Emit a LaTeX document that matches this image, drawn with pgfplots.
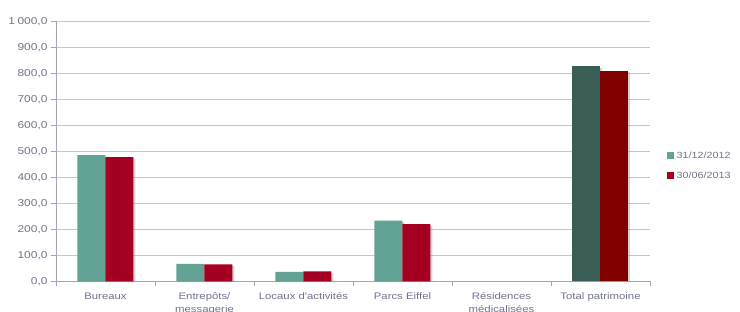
\documentclass[border=0pt]{standalone}
\usepackage{pgfplots}
\pgfplotsset{compat=1.18}
\usepackage{fontspec}
\setmainfont{Liberation Sans}
\newfontfamily\labfont[FakeStretch=1.2]{Liberation Sans}
\usetikzlibrary{shadows}
\definecolor{tealA}{HTML}{62A396}
\definecolor{redA}{HTML}{A50021}
\definecolor{tealB}{HTML}{3A5E56}
\definecolor{redB}{HTML}{800000}
\definecolor{txt}{HTML}{70738F}
\definecolor{gridc}{HTML}{C6C6D0}
\definecolor{axc}{HTML}{A4A4B4}
\tikzset{barshadow/.style={drop shadow={shadow xshift=2bp, shadow yshift=-1.5bp, opacity=0.35}}}
\begin{document}
\begin{tikzpicture}
\begin{axis}[
  at={(0,0)}, anchor=south west,
  scale only axis, width=594bp, height=260bp,
  ymin=0, ymax=1000, ytick distance=100,
  xmin=-0.5, xmax=5.5,
  xtick={0,1,2,3,4,5},
  xticklabels={Bureaux,{Entrepôts/\\messagerie},Locaux d'activités,Parcs Eiffel,{Résidences\\médicalisées},Total patrimoine},
  xticklabel style={align=center, font=\labfont\fontsize{9.5}{12.5}\selectfont, text=txt, yshift=-3bp},
  minor xtick={-0.5,0.5,1.5,2.5,3.5,4.5,5.5},
  major x tick style={draw=none},
  minor x tick style={draw=axc, line width=0.6pt},
  xtick pos=bottom, ytick pos=left,
  tick align=outside,
  major tick length=5bp, minor tick length=5bp,
  ymajorgrids, grid style={draw=gridc, line width=0.8pt},
  axis x line*=bottom, axis y line*=left,
  axis line style={draw=axc, line width=0.6pt, -},
  y tick style={draw=axc, line width=0.6pt},
  yticklabel style={font=\labfont\fontsize{10}{11}\selectfont, text=txt},
  /pgf/number format/.cd, fixed, fixed zerofill, precision=1, use comma, 1000 sep={\hspace{2.5bp}}, assume math mode=true,
  /pgfplots/.cd,
  ybar, bar width=28bp,
  legend style={at={(axis description cs:1,0.443)}, anchor=west, xshift=17bp, draw=none, fill=none,
    font=\labfont\fontsize{9}{10}\selectfont, text=txt, row sep=8bp, inner xsep=0pt,
    nodes={inner xsep=2.5bp}},
  legend image code/.code={\fill[#1] (0bp,-2.5bp) rectangle (7bp,4.5bp);},
  legend cell align=left,
]
\addplot[fill=tealA, draw=none, barshadow, bar shift=-14bp, forget plot] coordinates {(0,485) (1,67) (2,36) (3,233)};
\addplot[fill=redA, draw=none, barshadow, bar shift=14bp, forget plot] coordinates {(0,478) (1,65) (2,38) (3,220)};
\addplot[fill=tealB, draw=none, barshadow, bar shift=-14bp, forget plot] coordinates {(5,828)};
\addplot[fill=redB, draw=none, barshadow, bar shift=14bp, forget plot] coordinates {(5,809)};
\addlegendimage{fill=tealA, draw=none}
\addlegendentry{31/12/2012}
\addlegendimage{fill=redA, draw=none}
\addlegendentry{30/06/2013}
\end{axis}
\pgfresetboundingbox
\useasboundingbox (-56bp,-30.7bp) rectangle (684bp,281.3bp);
\end{tikzpicture}
\end{document}
